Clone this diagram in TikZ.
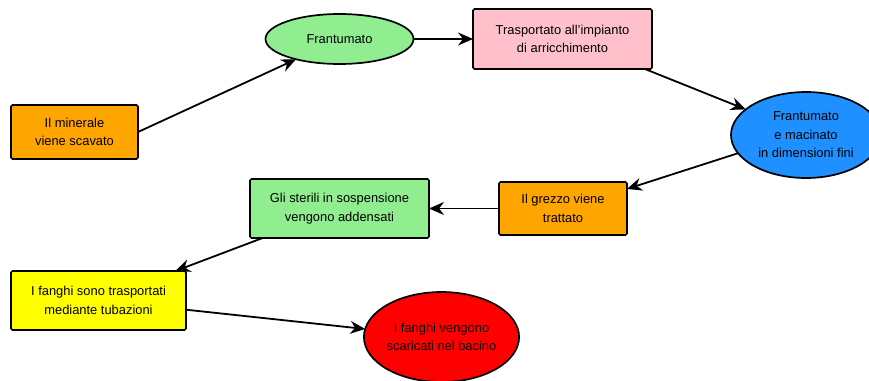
\documentclass[tikz,border=0pt]{standalone}
\usepackage{fontspec}
\setmainfont{Liberation Sans}
\usetikzlibrary{arrows.meta,shapes.geometric}
\definecolor{cOrange}{HTML}{FFA500}
\definecolor{cGreen}{HTML}{90EE90}
\definecolor{cPink}{HTML}{FFC0CB}
\definecolor{cBlue}{HTML}{1E90FF}
\definecolor{cYellow}{HTML}{FFFF00}
\definecolor{cRed}{HTML}{FF0000}
\tikzset{
  base/.style={draw=black, line width=1.7pt, align=center, inner sep=0pt, outer sep=0pt,
    font=\fontsize{12.9}{18.5}\selectfont},
  boxnode/.style={base, rectangle, rounded corners=1.5pt},
  ellnode/.style={base, ellipse},
  conn/.style={line width=1.8pt, -{Stealth[length=15pt,width=13pt,inset=5pt]}}
}
\begin{document}
\begin{tikzpicture}[x=1pt,y=-1pt]
\useasboundingbox (0,0) rectangle (869,380);
\clip (0,0) rectangle (869,380);
\node[boxnode, fill=cOrange, minimum width=127pt, minimum height=54pt] (scav) at (74.5,132) {Il minerale\\viene scavato};
\node[ellnode, fill=cGreen, minimum width=148pt, minimum height=50pt] (fr) at (339.5,39) {Frantumato};
\node[boxnode, fill=cPink, minimum width=179pt, minimum height=60pt] (tras) at (562.5,39) {Trasportato all'impianto\\di arricchimento};
\node[ellnode, fill=cBlue, minimum width=150pt, minimum height=86pt] (mac) at (806,135) {Frantumato\\e macinato\\in dimensioni fini};
\node[boxnode, fill=cOrange, minimum width=128pt, minimum height=53pt] (grez) at (563,208.5) {Il grezzo viene\\trattato};
\node[boxnode, fill=cGreen, minimum width=179pt, minimum height=59pt] (ster) at (339.5,208.5) {Gli sterili in sospensione\\vengono addensati};
\node[boxnode, fill=cYellow, minimum width=175pt, minimum height=59pt] (fang) at (98.5,300.5) {I fanghi sono trasportati\\mediante tubazioni};
\node[ellnode, fill=cRed, minimum width=155pt, minimum height=90pt] (bac) at (441.5,337) {I fanghi vengono\\scaricati nel bacino};
\draw[conn] (scav.east) -- (fr.205);
\draw[conn] (fr.east) -- (tras.west);
\draw[conn] (tras.-20.7) -- (mac.157.9);
\draw[conn] (mac.195.6) -- (grez.17.8);
\draw[conn] (grez.west) -- (ster.east);
\draw[conn] (ster.201) -- (fang.21);
\draw[conn] (fang.-6.1) -- (bac.174.8);
\end{tikzpicture}
\end{document}
